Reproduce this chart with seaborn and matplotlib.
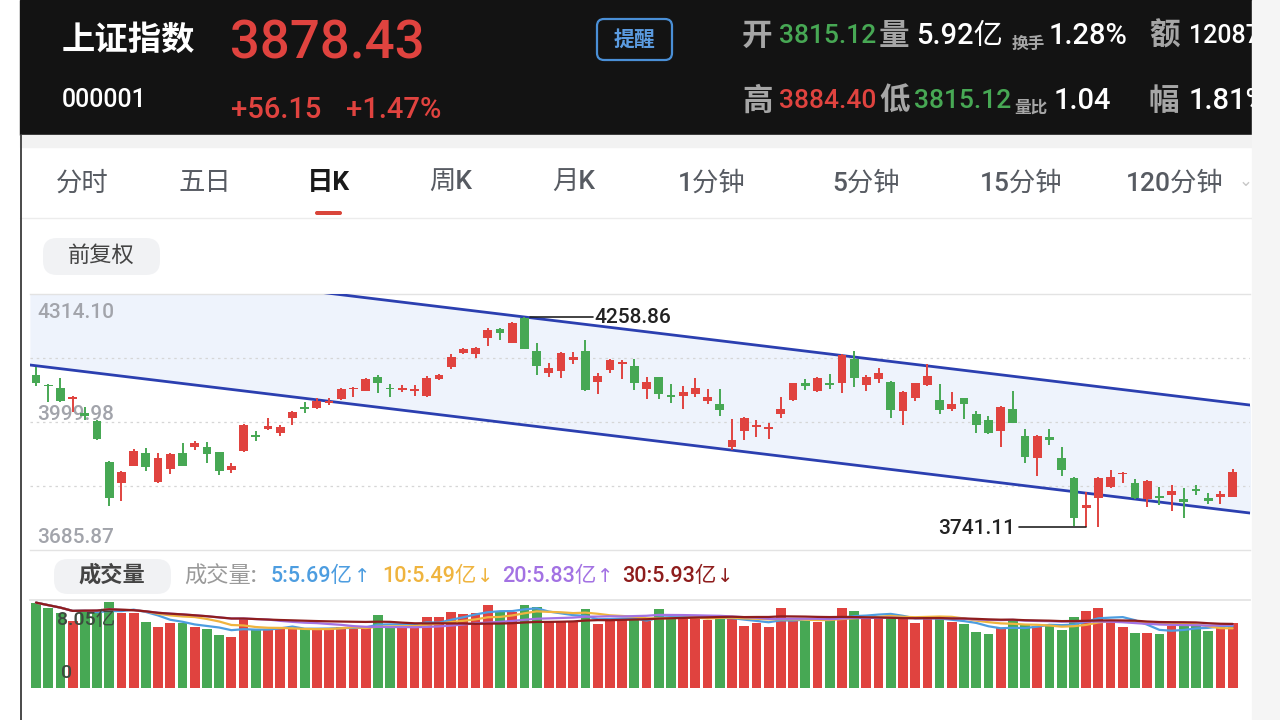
import numpy as np
import pandas as pd
import matplotlib
matplotlib.use("Agg")
import matplotlib.pyplot as plt
from matplotlib.patches import Rectangle, FancyBboxPatch
import seaborn as sns

# daily candles (99 sessions)
opens = [4115.3, 4091.6, 4084.2, 4057.2, 4021.2, 4002.4, 3902.6, 3851.1, 3892.8, 3923.1,
         3851.9, 3884.6, 3923.1, 3939.4, 3939.4, 3925.5, 3882.2, 3929.6, 3968.1, 3983.6,
         3972.2, 4009.0, 4037.6, 4033.5, 4045.8, 4055.6, 4080.1, 4076.9, 4111.2, 4084.2,
         4078.5, 4076.0, 4063.8, 4104.7, 4135.8, 4170.1, 4166.8, 4205.3, 4228.2, 4194.7,
         4255.0, 4174.2, 4119.4, 4125.1, 4152.1, 4174.2, 4097.3, 4127.6, 4142.3, 4137.4,
         4080.1, 4109.6, 4066.2, 4063.8, 4067.9, 4051.5, 4043.3, 3939.4, 3978.7, 3986.9,
         3983.6, 4018.8, 4054.0, 4094.9, 4076.0, 4094.9, 4096.5, 4153.8, 4090.8, 4104.7,
         4098.9, 4027.8, 4058.0, 4090.8, 4054.0, 4031.1, 4058.0, 4018.8, 4004.7, 3978.7,
         4031.1, 3965.6, 3910.8, 3962.3, 3910.8, 3863.4, 3788.1, 3812.6, 3839.6, 3871.5,
         3851.1, 3810.2, 3819.2, 3820.8, 3810.2, 3834.7, 3812.6, 3815.1, 3815.12]
highs = [4135.8, 4093.2, 4107.1, 4063.8, 4037.6, 4004.9, 3905.1, 3879.7, 3932.9, 3935.3,
         3923.1, 3923.1, 3947.6, 3954.2, 3951.7, 3927.2, 3900.2, 3995.1, 3977.9, 4010.6,
         3992.6, 4027.0, 4048.2, 4058.0, 4058.0, 4084.2, 4086.7, 4107.1, 4115.3, 4093.2,
         4090.8, 4090.8, 4112.8, 4117.8, 4166.0, 4182.4, 4184.8, 4231.5, 4231.5, 4246.2,
         4258.86, 4193.0, 4145.6, 4172.6, 4172.6, 4201.2, 4119.4, 4153.8, 4152.1, 4154.6,
         4109.6, 4111.2, 4093.2, 4089.1, 4107.1, 4080.9, 4080.1, 4006.5, 4011.4, 4004.9,
         3998.3, 4060.5, 4096.5, 4104.7, 4109.6, 4117.0, 4166.8, 4175.0, 4115.3, 4131.7,
         4100.6, 4076.0, 4096.5, 4142.3, 4092.4, 4072.8, 4059.7, 4027.0, 4014.7, 4040.0,
         4076.0, 3981.9, 3968.1, 3981.9, 3939.4, 3865.8, 3829.0, 3864.2, 3882.2, 3878.1,
         3859.3, 3857.6, 3841.3, 3845.4, 3837.2, 3845.4, 3824.9, 3830.6, 3884.40]
lows = [4088.3, 4049.9, 4049.9, 4025.3, 4004.7, 3955.8, 3793.8, 3806.9, 3892.0, 3879.7,
        3851.1, 3872.4, 3892.0, 3931.3, 3898.5, 3869.9, 3875.6, 3925.5, 3954.2, 3980.3,
        3965.6, 3992.6, 4021.2, 4031.1, 4041.7, 4054.0, 4062.1, 4076.0, 4070.3, 4062.1,
        4074.4, 4063.8, 4062.1, 4103.0, 4130.0, 4166.0, 4156.2, 4187.3, 4201.2, 4193.0,
        4178.3, 4115.3, 4109.6, 4108.8, 4142.3, 4076.0, 4068.7, 4121.0, 4104.7, 4078.5,
        4055.6, 4056.4, 4045.8, 4031.9, 4060.5, 4043.3, 4014.7, 3931.3, 3955.8, 3964.0,
        3958.3, 4009.0, 4051.5, 4078.5, 4074.4, 4080.9, 4070.3, 4085.0, 4076.0, 4094.9,
        4009.0, 3992.6, 4051.5, 4088.3, 4019.6, 4027.8, 4006.5, 3972.2, 3969.7, 3937.8,
        3996.7, 3900.2, 3868.3, 3943.5, 3868.3, 3745.0, 3741.11, 3743.0, 3838.8, 3851.1,
        3811.0, 3792.2, 3796.3, 3781.6, 3765.2, 3820.8, 3797.9, 3797.9, 3815.12]
closes = [4096.5, 4089.1, 4052.3, 4062.1, 4014.7, 3958.3, 3812.6, 3878.1, 3929.6, 3888.7,
          3912.4, 3920.6, 3892.8, 3947.6, 3921.4, 3880.5, 3892.0, 3992.6, 3964.0, 3990.2,
          3988.5, 4025.3, 4031.1, 4052.3, 4051.5, 4080.1, 4084.2, 4104.7, 4094.9, 4080.1,
          4084.2, 4080.9, 4107.1, 4115.3, 4160.3, 4179.1, 4180.8, 4225.7, 4219.2, 4243.7,
          4179.1, 4137.4, 4131.7, 4170.1, 4160.3, 4078.5, 4112.9, 4152.1, 4148.0, 4096.5,
          4098.9, 4068.7, 4060.5, 4074.4, 4082.6, 4060.5, 4029.4, 3955.8, 4009.0, 3992.6,
          3988.5, 4031.1, 4094.9, 4089.1, 4107.1, 4090.8, 4164.4, 4108.8, 4111.2, 4119.4,
          4029.4, 4074.4, 4094.9, 4112.9, 4029.4, 4043.3, 4044.1, 3992.6, 3972.2, 4037.6,
          3996.7, 3914.9, 3966.4, 3955.8, 3882.2, 3763.6, 3796.3, 3861.7, 3865.8, 3875.6,
          3812.6, 3855.2, 3814.3, 3830.6, 3804.5, 3830.6, 3806.9, 3823.3, 3878.43]
# volume in 亿
volumes = [7.81, 7.35, 6.90, 6.16, 7.14, 7.14, 7.90, 6.83, 6.83, 6.07,
           5.55, 5.92, 5.92, 5.61, 5.37, 4.85, 4.70, 6.38, 5.40, 5.40,
           5.40, 5.52, 5.40, 5.40, 5.46, 5.61, 5.61, 5.61, 6.68, 5.61,
           5.61, 5.61, 6.53, 6.53, 6.92, 6.77, 6.89, 7.56, 6.98, 6.98,
           7.56, 7.38, 6.07, 6.16, 6.16, 7.20, 5.86, 6.16, 6.37, 6.28,
           6.16, 7.23, 6.37, 6.37, 6.53, 6.22, 6.47, 6.37, 5.70, 5.92,
           5.61, 7.35, 6.28, 6.13, 6.07, 6.28, 7.35, 7.05, 6.37, 6.53,
           6.59, 6.47, 5.92, 6.44, 6.37, 6.01, 5.86, 5.09, 4.91, 5.46,
           6.22, 5.76, 5.70, 5.76, 5.31, 6.47, 7.05, 7.29, 6.07, 5.55,
           5.06, 5.00, 4.91, 5.67, 5.92, 5.76, 5.25, 5.55, 5.92]

# channel drawn by the user (two anchor points each)
channel_x = [-0.5, 99.5]
channel_upper = [4405.0, 4041.3]
channel_lower = [4139.9, 3776.3]

price_top, price_bottom = 4314.10, 3685.87
price_mid = 3999.98
grid_levels = [4157.04, 3999.98, 3842.93]
vol_top = 8.05

tabs = ["分时", "五日", "日K", "周K", "月K", "1分钟", "5分钟", "15分钟", "120分钟"]
tab_x = [82, 205, 328, 451, 574, 712, 866, 1021, 1175]
ma_windows = [5, 10, 20, 30]
ma_labels = ["5:5.69亿", "10:5.49亿", "20:5.83亿", "30:5.93亿"]
ma_arrows = ["↑", "↓", "↑", "↓"]
ma_colors = ["#4d9de0", "#efb43f", "#a372e3", "#8e1d1d"]

RED = "#e0433f"
GREEN = "#47a854"
GRAY = "#a6a6a6"

df = pd.DataFrame({"open": opens, "high": highs, "low": lows, "close": closes, "vol": volumes})
df["i"] = np.arange(len(df))
df["color"] = np.where(df["close"] >= df["open"], RED, GREEN)

sns.set_theme(style="white")
plt.rcParams["font.family"] = ["Roboto", "Noto Sans CJK SC", "DejaVu Sans"]

fig = plt.figure(figsize=(12.8, 7.2), dpi=100)
fig.patch.set_facecolor("white")

# pixel-space background layer
bg = fig.add_axes([0, 0, 1, 1], zorder=0)
bg.set_xlim(0, 1280)
bg.set_ylim(720, 0)
bg.axis("off")

bg.add_patch(Rectangle((20, 0), 1232, 135, color="#131313", zorder=1))
bg.add_patch(Rectangle((20, 135), 1232, 12, color="#f2f2f2", zorder=1))
bg.plot([20, 1252], [218, 218], color="#ececec", lw=1, zorder=1)
bg.plot([20.5, 20.5], [135, 720], color="#3c3c3c", lw=1.3, zorder=1)

# header
bg.text(62, 41, "上证指数", color="white", fontsize=24, fontweight="bold", va="center")
bg.text(230, 44, "3878.43", color=RED, fontsize=38, fontweight="medium", va="center")
bg.text(62, 100, "000001", color="white", fontsize=18, fontweight="medium", va="center")
bg.text(231, 110, "+56.15", color=RED, fontsize=21, fontweight="medium", va="center")
bg.text(346, 110, "+1.47%", color=RED, fontsize=21, fontweight="medium", va="center")
bg.add_patch(FancyBboxPatch((597, 19), 75, 41, boxstyle="round,pad=0,rounding_size=7",
                            fc="none", ec="#4a8fd6", lw=1.6, zorder=2))
bg.text(634.5, 40, "提醒", color="#5b9be0", fontsize=15, fontweight="bold", ha="center", va="center")

row1 = [(742, "开", GRAY, 22), (779, "3815.12", GREEN, 19), (879, "量", GRAY, 22),
        (916, "5.92亿", "white", 21), (1012, "换手", GRAY, 12), (1049, "1.28%", "white", 21),
        (1149, "额", GRAY, 22), (1189, "12087", "white", 18)]
row2 = [(742, "高", GRAY, 22), (779, "3884.40", RED, 19), (879, "低", GRAY, 22),
        (914, "3815.12", GREEN, 19), (1014, "量比", GRAY, 12), (1054, "1.04", "white", 21),
        (1149, "幅", GRAY, 22), (1189, "1.81%", "white", 21)]
for row, ymain, ysmall in [(row1, 36, 44), (row2, 101, 108)]:
    for x, s, c, fs in row:
        y = ysmall if fs < 14 else ymain
        bg.text(x, y, s, color=c, fontsize=fs, fontweight="bold" if c == GRAY else "medium",
                va="center", zorder=3)

# tabs
for x, s in zip(tab_x, tabs):
    if s == "日K":
        bg.text(x, 183, s, color="#1a1a1a", fontsize=19, fontweight="bold", ha="center", va="center")
    else:
        bg.text(x, 183, s, color="#575b62", fontsize=19, fontweight="medium", ha="center", va="center")
bg.text(1246, 181, "⌄", color="#c8c8c8", fontsize=12, ha="center", va="center", family="DejaVu Sans")
bg.add_patch(FancyBboxPatch((315, 211), 27, 4, boxstyle="round,pad=0,rounding_size=2",
                            fc="#d9453a", ec="none", zorder=2))

bg.add_patch(FancyBboxPatch((43, 238), 117, 37, boxstyle="round,pad=0,rounding_size=14",
                            fc="#f1f2f4", ec="none", zorder=2))
bg.text(101, 256, "前复权", color="#444444", fontsize=16, fontweight="medium", ha="center", va="center")

# volume legend row
bg.add_patch(FancyBboxPatch((54, 559), 117, 35, boxstyle="round,pad=0,rounding_size=14",
                            fc="#f1f2f4", ec="none", zorder=2))
bg.text(112, 576, "成交量", color="#444444", fontsize=16, fontweight="bold", ha="center", va="center")
bg.text(184, 577, "成交量:", color="#9a9a9a", fontsize=16, fontweight="medium", va="center")
fig.canvas.draw()
for x, s, a, c in zip([271, 382, 502, 622], ma_labels, ma_arrows, ma_colors):
    t = bg.text(x, 577, s, color=c, fontsize=15.5, fontweight="medium", va="center")
    bb = t.get_window_extent(renderer=fig.canvas.get_renderer())
    x1 = bg.transData.inverted().transform((bb.x1, bb.y0))[0]
    bg.text(x1 + 1, 577, a, color=c, fontsize=14, va="center", family="DejaVu Sans")

bg.add_patch(Rectangle((1252, 0), 28, 720, color="#f5f5f5", zorder=10))

# price panel
ax = fig.add_axes([30 / 1280, 1 - 550 / 720, 1220 / 1280, 256 / 720], zorder=2)
ax.patch.set_alpha(0)
ax.set_xlim(-0.49, 99.42)
ax.set_ylim(price_bottom, price_top)

ax.fill_between(channel_x, channel_lower, channel_upper, color="#eef3fc", zorder=0, lw=0)
for lvl in grid_levels:
    ax.axhline(lvl, color="#d6d6d6", lw=0.9, ls=(0, (2, 3)), zorder=0.5)
ax.plot(channel_x, channel_upper, color="#2b3fb0", lw=2, zorder=3)
ax.plot(channel_x, channel_lower, color="#2b3fb0", lw=2, zorder=3)

ax.vlines(df["i"], df["low"], df["high"], colors=df["color"], lw=1.4, zorder=4)
body = (df["close"] - df["open"]).abs().clip(lower=2.0)
ax.bar(df["i"], body, bottom=df[["open", "close"]].min(axis=1), width=0.72,
       color=df["color"], lw=0, zorder=5)

for s in ["left", "right"]:
    ax.spines[s].set_visible(False)
for s in ["top", "bottom"]:
    ax.spines[s].set_color("#e3e3e3")
    ax.spines[s].set_linewidth(1)
ax.set_xticks([])
ax.set_yticks([])

lab = ax.get_yaxis_transform()
for v, off in [(price_top, -19), (price_mid, 8), (price_bottom, 13)]:
    ax.text(0.006, v + off * 2.454, f"{v:.2f}", transform=lab, color="#a2a4ab",
            fontsize=15, fontweight="medium", va="center")

hi_i = int(df["high"].idxmax())
lo_i = int(df["low"].idxmin())
hi_v = df["high"].max()
lo_v = df["low"].min()
ax.plot([hi_i + 0.45, hi_i + 5.6], [hi_v, hi_v], color="#222222", lw=1.2, zorder=6)
ax.text(hi_i + 5.7, hi_v - 2, f"{hi_v:.2f}", color="#222222", fontsize=15, fontweight="medium",
        va="center", zorder=6)
ax.plot([lo_i - 5.5, lo_i], [lo_v, lo_v], color="#222222", lw=1.2, zorder=6)
ax.text(lo_i - 5.8, lo_v - 2, f"{lo_v:.2f}", color="#222222", fontsize=15, fontweight="medium",
        ha="right", va="center", zorder=6)

# volume panel
axv = fig.add_axes([30 / 1280, 1 - 688 / 720, 1220 / 1280, 88 / 720], zorder=2)
axv.patch.set_alpha(0)
axv.set_xlim(-0.49, 99.42)
axv.set_ylim(0, vol_top)
axv.bar(df["i"], df["vol"], width=0.8, color=df["color"], lw=0, zorder=2)
for w, c in zip(ma_windows, ma_colors):
    ma = df["vol"].rolling(w, min_periods=1).mean()
    sns.lineplot(x=df["i"], y=ma, ax=axv, color=c, lw=1.6, zorder=3, legend=False)
for s in ["left", "right", "bottom"]:
    axv.spines[s].set_visible(False)
axv.spines["top"].set_color("#e3e3e3")
axv.set_xticks([])
axv.set_yticks([])
axv.set_xlabel("")
axv.set_ylabel("")
axv.text(0.022, 0.77, f"{vol_top:.2f}亿", transform=axv.transAxes, color="#3d4a3f",
         fontsize=14, fontweight="medium", va="center", zorder=4)
axv.text(0.025, 0.17, "0", transform=axv.transAxes, color="#3d4a3f", fontsize=14,
         fontweight="medium", va="center", zorder=4)

fig.savefig("out.png", dpi=100)
